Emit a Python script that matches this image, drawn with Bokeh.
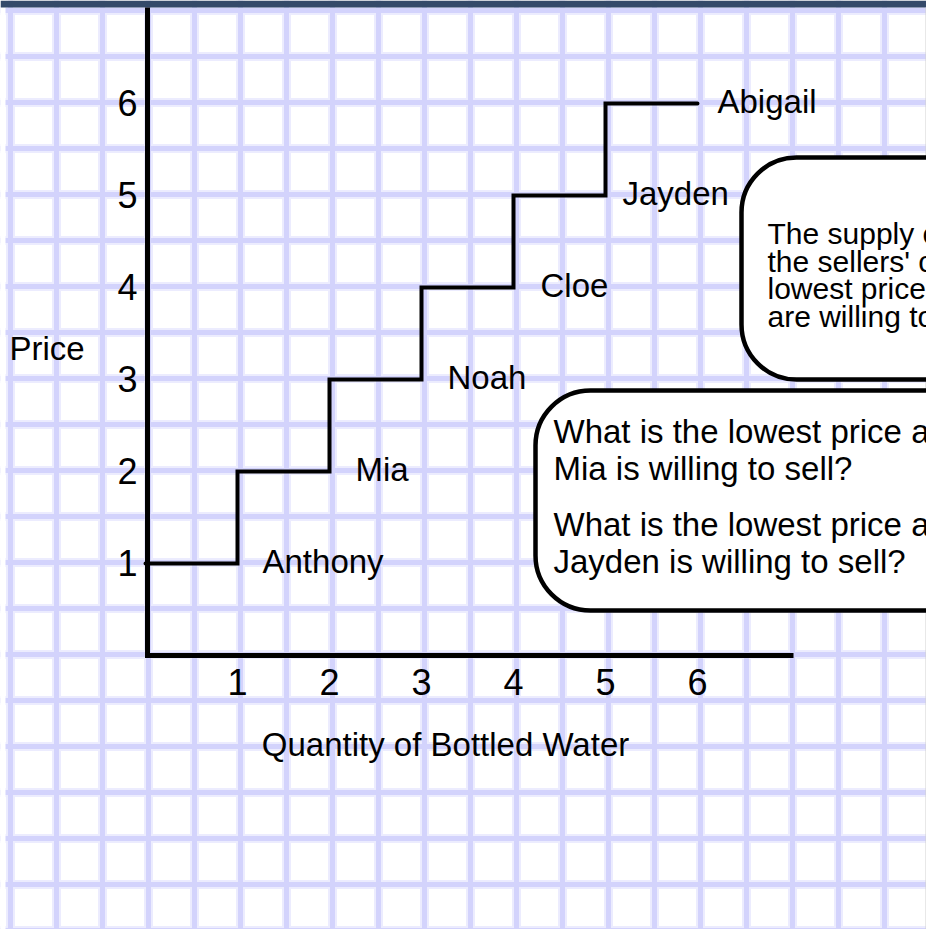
import numpy as np
from bokeh.plotting import figure
from bokeh.models import Range1d
from bokeh.core.properties import value
from bokeh.embed import file_html
from bokeh.resources import INLINE

# ---------------- data ----------------
sellers = ["Anthony", "Mia", "Noah", "Cloe", "Jayden", "Abigail"]
quantity = [1, 2, 3, 4, 5, 6]
price = [1, 2, 3, 4, 5, 6]
x_ticks = [1, 2, 3, 4, 5, 6]
y_ticks = [1, 2, 3, 4, 5, 6]
x_title = "Quantity of Bottled Water"
y_title = "Price"
note_supply = ["The supply curve shows", "the sellers' costs: the",
               "lowest price at which they", "are willing to sell."]
note_questions = ["What is the lowest price at which", "Mia is willing to sell?",
                  "What is the lowest price at which", "Jayden is willing to sell?"]

# ---------------- layout (pixels -> data) ----------------
W, H = 926, 929
U = 92.0                       # pixels per unit
OX, OY = 145, 655              # origin inside the figure (px)
def d(px):
    return px / U
def fx(px):                    # figure pixel x -> data x
    return (px - OX) / U
def fy(py):                    # figure pixel y -> data y
    return (OY - py) / U

x0 = fx(0)
x1 = fx(W)
y1 = fy(0)
y0 = fy(H)

FONT = value("Liberation Sans")

p = figure(width=W, height=H, x_range=Range1d(x0, x1), y_range=Range1d(y0, y1),
           x_axis_location=None, y_axis_location=None, toolbar_location=None,
           output_backend="svg", min_border=0, outline_line_color=None,
           background_fill_color="white", border_fill_color="white")
p.grid.visible = False

# graph-paper grid
gx = fx(10) + 0.5 * np.arange(21)
gy = fy(10) - 0.5 * np.arange(21)
for lw, col in [(9, "#ececfe"), (5, "#d3d3fc")]:
    p.segment(x0=gx, y0=y0, x1=gx, y1=y1, line_width=lw, line_color=col)
    p.segment(x0=x0, y0=gy, x1=x1, y1=gy, line_width=lw, line_color=col)

# page frame: white left strip, dark top bar, thin right edge
p.quad(left=[x0], right=[fx(5)], top=[y1], bottom=[y0], fill_color="white", line_color=None)
p.quad(left=[x0], right=[x1], top=[y1], bottom=[fy(7)], fill_color="#344a6a", line_color=None)
p.segment(x0=[fx(925.5)], y0=[y0], x1=[fx(925.5)], y1=[fy(7)], line_width=1, line_color="#d0d0d0")

# axes
ax = d(2)
p.line(x=[ax, ax, fx(793)], y=[fy(7), 0, 0], line_width=5,
       line_color="black", line_join="miter")

# supply step line
p.step(x=[0] + quantity, y=price + [price[-1]], mode="after", line_width=4,
       line_color="black", line_join="miter", line_cap="round")

# tick labels
p.text(x=[d(-8)] * len(y_ticks), y=[v + d(0.5) for v in y_ticks],
       text=[str(v) for v in y_ticks], text_align="right", text_baseline="alphabetic",
       text_font=FONT, text_font_size="36px", text_color="black")
p.text(x=x_ticks, y=[fy(681)] * len(x_ticks), text=[str(v) for v in x_ticks],
       text_align="center", text_baseline="alphabetic",
       text_font=FONT, text_font_size="36px", text_color="black")

# axis titles
p.text(x=[fx(9)], y=[fy(348)], text=[y_title], text_align="left",
       text_baseline="alphabetic", text_font=FONT, text_font_size="33px", text_color="black")
p.text(x=[fx(445)], y=[fy(744)], text=[x_title], text_align="center",
       text_baseline="alphabetic", text_font=FONT, text_font_size="33px", text_color="black")

# seller labels
label_dx = [25, 26, 26, 27, 17, 20]
p.text(x=[q + d(o) for q, o in zip(quantity, label_dx)], y=[v + d(2) for v in price],
       text=sellers, text_align="left", text_baseline="alphabetic",
       text_font=FONT, text_font_size="33px", text_color="black")

# callout boxes
p.quad(left=[fx(741), fx(535)], right=[fx(1010)] * 2,
       top=[fy(157), fy(390)], bottom=[fy(379), fy(610)],
       fill_color="white", line_color="black", line_width=4.5, border_radius=55)

base1 = [233, 261, 288, 316]
p.text(x=[fx(767)] * 4, y=[fy(b) for b in base1], text=note_supply,
       text_align="left", text_baseline="alphabetic", text_font=FONT,
       text_font_size="30px", text_color="black")
base2 = [431, 468, 524, 561]
p.text(x=[fx(553)] * 4, y=[fy(b) for b in base2], text=note_questions,
       text_align="left", text_baseline="alphabetic", text_font=FONT,
       text_font_size="33px", text_color="black")

open("out.html", "w").write(file_html(p, INLINE))
